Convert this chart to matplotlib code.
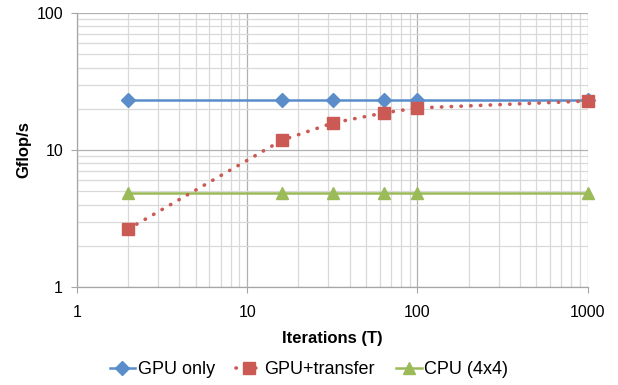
import matplotlib.pyplot as plt
from matplotlib.ticker import LogLocator, FixedLocator, NullFormatter

plt.rcParams['font.family'] = ['Liberation Sans', 'DejaVu Sans']

# data
iterations = [2, 16, 32, 64, 100, 1000]
gpu_only = [23.2, 23.2, 23.2, 23.2, 23.2, 23.2]
gpu_transfer = [2.65, 11.8, 15.8, 18.7, 20.3, 22.8]
cpu_4x4 = [4.85, 4.85, 4.85, 4.85, 4.85, 4.85]

x_ticks = [1, 10, 100, 1000]
y_ticks = [1, 10, 100]

blue = '#5A8DCA'
red = '#CB5A55'
green = '#9BBB59'

fig = plt.figure(figsize=(6.18, 3.85), dpi=100)
ax = fig.add_axes([0.1246, 0.2545, 0.8264, 0.7115])

ax.set_xscale('log')
ax.set_yscale('log')
ax.set_xlim(1, 1000)
ax.set_ylim(1, 100)

ax.plot(iterations, gpu_only, color=blue, lw=1.8, marker='D', ms=7.5,
        label='GPU only', zorder=3, clip_on=False)
ax.plot(iterations, gpu_transfer, color=red, lw=2.6, ls=(0, (0.1, 2.6)),
        dash_capstyle='round', marker='s', ms=8.5, label='GPU+transfer',
        zorder=4, clip_on=False)
ax.plot(iterations, cpu_4x4, color=green, lw=1.8, marker='^', ms=9,
        label='CPU (4x4)', zorder=3, clip_on=False)

ax.xaxis.set_major_locator(FixedLocator(x_ticks))
ax.yaxis.set_major_locator(FixedLocator(y_ticks))
ax.xaxis.set_minor_locator(LogLocator(base=10, subs=range(2, 10)))
ax.yaxis.set_minor_locator(LogLocator(base=10, subs=range(2, 10)))
ax.xaxis.set_minor_formatter(NullFormatter())
ax.yaxis.set_minor_formatter(NullFormatter())
ax.set_xticklabels([str(t) for t in x_ticks])
ax.set_yticklabels([str(t) for t in y_ticks])

ax.grid(which='major', color='#b0b0b0', lw=0.9)
ax.grid(which='minor', color='#d9d9d9', lw=0.9)
ax.set_axisbelow(True)

for s in ['top', 'right']:
    ax.spines[s].set_visible(False)
for s in ['left', 'bottom']:
    ax.spines[s].set_color('#a6a6a6')
    ax.spines[s].set_linewidth(0.9)

ax.tick_params(which='major', length=4, color='#a6a6a6', labelsize=11.5)
ax.tick_params(axis='x', which='major', pad=9)
ax.tick_params(axis='y', which='major', pad=6)
ax.tick_params(which='minor', length=0)

ax.set_xlabel('Iterations (T)', fontsize=12, fontweight='bold', labelpad=8)
ax.set_ylabel('Gflop/s', fontsize=12, fontweight='bold', labelpad=4)

fig.legend(*ax.get_legend_handles_labels(), loc='center',
           bbox_to_anchor=(0.5, 1 - 370 / 385), ncol=3,
           frameon=False, fontsize=13, handlelength=1.4, handletextpad=0.15,
           columnspacing=1.2, borderaxespad=0)

fig.savefig('out.png', dpi=100)
